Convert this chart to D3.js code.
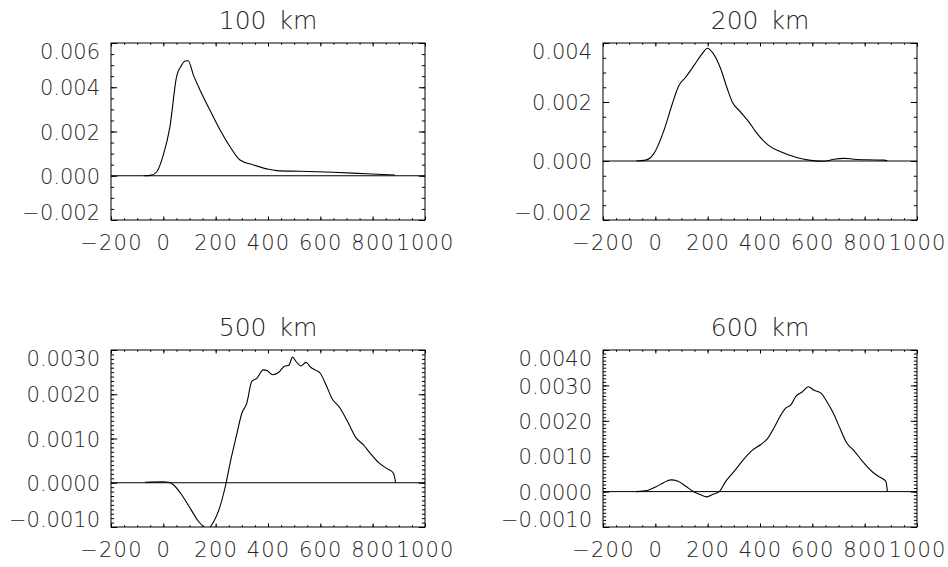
<!DOCTYPE html>
<html>
<head>
<meta charset="utf-8">
<script src="https://cdn.jsdelivr.net/npm/d3@7"></script>
<style>
  html, body { margin: 0; padding: 0; background: #fff; }
  svg { display: block; }
  text { font-family: "DejaVu Sans", "Liberation Sans", sans-serif; font-weight: 200; fill: #262626; }
</style>
</head>
<body>
<svg id="chart" width="948" height="567"></svg>
<script>
// ---------- data ----------
const panelTitles = ["100 km", "200 km", "500 km", "600 km"];

const xTickValues = [-200, 0, 200, 400, 600, 800, 1000];
const xTickLabels = ["\u2212200", "0", "200", "400", "600", "800", "1000"];

// 100 km
const x100 = [-75, -45, -25, 0, 25, 51, 70, 83, 95, 115, 140, 178, 217, 255, 293, 344, 395, 433, 522, 648, 777, 885];
const y100 = [0, 0.00003, 0.00018, 0.00094, 0.0022, 0.0045, 0.0050, 0.00519, 0.0052, 0.00455, 0.00388, 0.00297, 0.00207, 0.00131, 0.00071, 0.00049, 0.00031, 0.00023, 0.00020, 0.000155, 0.00009, 0.00003];
const yTicks100 = [-0.002, 0, 0.002, 0.004, 0.006];
const yLabels100 = ["\u22120.002", "0.000", "0.002", "0.004", "0.006"];

// 200 km
const x200 = [-73, -37, -5, 33, 65, 90, 116, 148, 180, 199, 218, 250, 275, 294, 326, 358, 384, 434, 479, 543, 594, 645, 683, 721, 759, 810, 874, 887];
const y200 = [0, 0.00003, 0.00026, 0.00104, 0.00194, 0.00256, 0.00284, 0.00324, 0.00365, 0.00382, 0.00368, 0.00312, 0.00245, 0.0020, 0.00166, 0.00132, 0.00099, 0.00052, 0.00031, 0.00011, 0.00002, -0.00001, 0.00006, 0.00009, 0.00006, 0.00004, 0.00003, 0];
const yTicks200 = [-0.002, 0, 0.002, 0.004];
const yLabels200 = ["\u22120.002", "0.000", "0.002", "0.004"];

// 500 km
const x500 = [-70, 0, 19, 38, 70, 102, 134, 153, 168, 185, 217, 240, 255, 280, 300, 319, 338, 357, 382, 395, 418, 440, 465, 479, 494, 507, 526, 545, 563, 584, 599, 622, 644, 675, 707, 736, 764, 790, 822, 854, 879, 888];
const y500 = [0.00001, 0.00002, 0.00001, -0.000045, -0.00027, -0.00057, -0.00087, -0.00099, -0.00106, -0.00095, -0.00053, 0, 0.00044, 0.00108, 0.00157, 0.0018, 0.00229, 0.00236, 0.00255, 0.00254, 0.00244, 0.00249, 0.00264, 0.00265, 0.00284, 0.00274, 0.00264, 0.00272, 0.00261, 0.00254, 0.00248, 0.00221, 0.00191, 0.00169, 0.00135, 0.00102, 0.00086, 0.00067, 0.00046, 0.00032, 0.00022, 0];
const yTicks500 = [-0.001, 0, 0.001, 0.002, 0.003];
const yLabels500 = ["\u22120.0010", "0.0000", "0.0010", "0.0020", "0.0030"];

// 600 km
const x600 = [-73, -31, 1, 33, 59, 87, 116, 148, 173, 195, 218, 244, 269, 301, 332, 371, 403, 428, 460, 477, 498, 517, 537, 562, 585, 607, 632, 658, 680, 702, 731, 759, 791, 829, 855, 881, 887];
const y600 = [0, 0.00003, 0.00013, 0.00026, 0.00033, 0.00029, 0.00015, -0.00001, -0.00009, -0.00015, -0.00008, 0, 0.00029, 0.00057, 0.00086, 0.00117, 0.00133, 0.00149, 0.00189, 0.00213, 0.00236, 0.00244, 0.00269, 0.00282, 0.00296, 0.00286, 0.00279, 0.00251, 0.00222, 0.00185, 0.00138, 0.00116, 0.00086, 0.00056, 0.00042, 0.00029, 0];
const yTicks600 = [-0.001, 0, 0.001, 0.002, 0.003, 0.004];
const yLabels600 = ["\u22120.0010", "0.0000", "0.0010", "0.0020", "0.0030", "0.0040"];

// ---------- panels ----------
const panels = [
  { title: panelTitles[0], xs: x100, ys: y100, yDomain: [-0.002, 0.006], yTicks: yTicks100, yLabels: yLabels100, yMinorStep: 0.0005, left: 111, top: 43 },
  { title: panelTitles[1], xs: x200, ys: y200, yDomain: [-0.002, 0.004], yTicks: yTicks200, yLabels: yLabels200, yMinorStep: 0.0005, left: 603, top: 43 },
  { title: panelTitles[2], xs: x500, ys: y500, yDomain: [-0.001, 0.003], yTicks: yTicks500, yLabels: yLabels500, yMinorStep: 0.0001, left: 111, top: 350 },
  { title: panelTitles[3], xs: x600, ys: y600, yDomain: [-0.001, 0.004], yTicks: yTicks600, yLabels: yLabels600, yMinorStep: 0.0001, left: 603, top: 350 }
];

const W = 314, H = 177;
const svg = d3.select("#chart");
const FS = 21;

function minorRange(d0, d1, step) {
  const n = Math.round((d1 - d0) / step);
  const out = [];
  for (let i = 0; i <= n; i++) out.push(+(d0 + i * step).toFixed(8));
  return out;
}

panels.forEach((p, i) => {
  const g = svg.append("g").attr("transform", `translate(${p.left},${p.top})`);
  const x = d3.scaleLinear().domain([-200, 1000]).range([0, W]);
  const y = d3.scaleLinear().domain(p.yDomain).range([H, 0]);

  const xMinor = minorRange(-200, 1000, 50);
  const yMinor = minorRange(p.yDomain[0], p.yDomain[1], p.yMinorStep);
  const xLen = 0.02 * H, yLen = 0.02 * W;

  // minor ticks
  g.append("g").attr("transform", `translate(0,${H})`)
    .call(d3.axisBottom(x).tickValues(xMinor).tickSize(-xLen / 2).tickSizeOuter(0).tickFormat(""));
  g.append("g")
    .call(d3.axisTop(x).tickValues(xMinor).tickSize(-xLen / 2).tickSizeOuter(0).tickFormat(""));
  g.append("g")
    .call(d3.axisLeft(y).tickValues(yMinor).tickSize(-yLen / 2).tickSizeOuter(0).tickFormat(""));
  g.append("g").attr("transform", `translate(${W},0)`)
    .call(d3.axisRight(y).tickValues(yMinor).tickSize(-yLen / 2).tickSizeOuter(0).tickFormat(""));

  // major ticks
  const xb = g.append("g").attr("class", "xaxis").attr("transform", `translate(0,${H})`)
    .call(d3.axisBottom(x).tickValues(xTickValues).tickSize(-xLen).tickSizeOuter(0)
      .tickFormat((d, k) => xTickLabels[k]));
  g.append("g")
    .call(d3.axisTop(x).tickValues(xTickValues).tickSize(-xLen).tickSizeOuter(0).tickFormat(""));
  const yl = g.append("g").attr("class", "yaxis")
    .call(d3.axisLeft(y).tickValues(p.yTicks).tickSize(-yLen).tickSizeOuter(0)
      .tickFormat((d, k) => p.yLabels[k]));
  g.append("g").attr("transform", `translate(${W},0)`)
    .call(d3.axisRight(y).tickValues(p.yTicks).tickSize(-yLen).tickSizeOuter(0).tickFormat(""));

  g.selectAll(".domain").remove();
  g.selectAll(".tick line").attr("stroke", "#000").attr("stroke-width", 1);

  xb.selectAll(".tick text")
    .attr("y", 30).attr("dy", null)
    .style("font-size", FS + "px").style("font-family", "DejaVu Sans").style("font-weight", 200)
    .style("letter-spacing", "1.2px").attr("fill", "#262626");
  yl.selectAll(".tick text")
    .attr("x", -11)
    .attr("dy", null)
    .attr("y", d => {
      const ty = y(d);
      const c = Math.max(8.3 - ty, Math.min(H - 8.3 - ty, 0));
      return c + FS * 0.365;
    })
    .style("font-size", FS + "px").style("font-family", "DejaVu Sans").style("font-weight", 200)
    .attr("fill", "#262626");

  // clip
  const cid = "clip" + i;
  g.append("clipPath").attr("id", cid).append("rect").attr("width", W).attr("height", H);

  // zero line
  g.append("line").attr("x1", 0).attr("x2", W).attr("y1", y(0)).attr("y2", y(0))
    .attr("stroke", "#000").attr("stroke-width", 1);

  // curve
  const pts = p.xs.map((v, k) => [v, p.ys[k]]);
  const line = d3.line().x(d => x(d[0])).y(d => y(d[1])).curve(d3.curveMonotoneX);
  g.append("path").attr("clip-path", `url(#${cid})`).datum(pts).attr("d", line)
    .attr("fill", "none").attr("stroke", "#000").attr("stroke-width", 1.1);

  // frame
  g.append("rect").attr("width", W).attr("height", H)
    .attr("fill", "none").attr("stroke", "#000").attr("stroke-width", 1);

  // title
  g.append("text").attr("x", W / 2).attr("y", -14).attr("text-anchor", "middle")
    .style("font-size", "25px").style("word-spacing", "4px").text(p.title);
});
</script>
</body>
</html>
